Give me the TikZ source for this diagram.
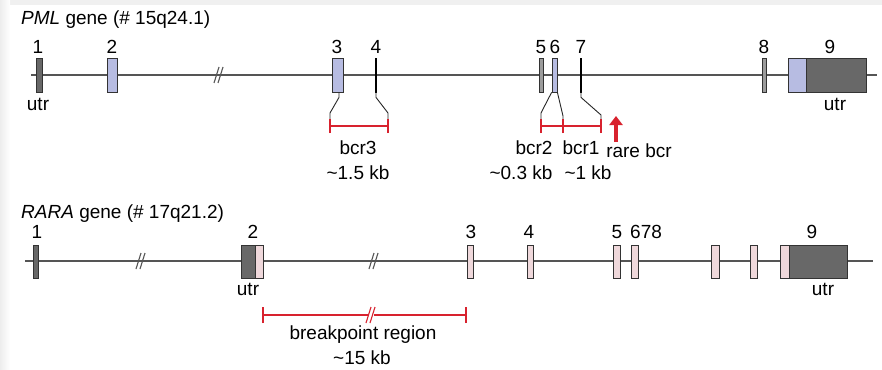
\documentclass[tikz,border=0pt]{standalone}
\usepackage{fontspec}
\setmainfont{Liberation Sans}
\usetikzlibrary{arrows.meta}
\definecolor{exblue}{HTML}{B7BCE2}
\definecolor{expink}{HTML}{EFD8DB}
\definecolor{exdark}{HTML}{686868}
\definecolor{exgray}{HTML}{9C9C9C}
\definecolor{bcrred}{HTML}{D8222E}
\definecolor{axisgray}{HTML}{555555}

\begin{document}
\begin{tikzpicture}[x=1pt,y=-1pt,
  exon/.style={draw=black!80, line width=0.8pt, inner sep=0pt, minimum height=34pt, anchor=center},
  rexon/.style={exon, minimum height=33pt},
  lbl/.style={font=\fontsize{19}{21}\selectfont, inner sep=0pt},
  chrom/.style={draw=axisgray, line width=1.1pt},
  cut/.style={draw=axisgray, line width=1.1pt},
  fan/.style={draw=black!85, line width=0.9pt},
  bcr/.style={draw=bcrred, line width=1.2pt}]

% page and soft frame
\fill[white] (0,0) rectangle (882,369);
\fill[black!6] (0,0) rectangle (882,5);
\shade[left color=black!7, right color=white] (0,0) rectangle (10,369);
\useasboundingbox (0,0) rectangle (882,369);

% ---------------- PML ----------------
\node[lbl, anchor=west] (pmltitle) at (21,20) {\textit{PML} gene (\# 15q24.1)};
\coordinate (pa) at (31,75);
\coordinate (pb) at (877,75);
\draw[chrom] (pa) -- (pb);
\draw[cut] (214,83) -- (219,67) (218,83) -- (223,67);

\node[exon, fill=exdark, minimum width=6pt]  (p1) at (39,75) {};
\node[exon, fill=exblue, minimum width=10pt] (p2) at (112,75) {};
\node[exon, fill=exblue, minimum width=11pt] (p3) at (337.5,75) {};
\node[exon, fill=black, draw=black, minimum width=1.6pt] (p4) at (376,75) {};
\node[exon, fill=exgray, minimum width=4pt] (p5) at (541,75) {};
\node[exon, fill=exblue, minimum width=5pt] (p6) at (554.5,75) {};
\node[exon, fill=black, draw=black, minimum width=1.6pt] (p7) at (581,75) {};
\node[exon, fill=exgray, minimum width=4pt] (p8) at (764,75) {};
\node[exon, fill=exblue, minimum width=18pt] (p9a) at (797,75) {};
\node[exon, fill=exdark, minimum width=60pt] (p9b) at (836,75) {};

\node[lbl] (pl1) at (38,47) {1};
\node[lbl] (pl2) at (112,47) {2};
\node[lbl] (pl3) at (337,47) {3};
\node[lbl] (pl4) at (376,47) {4};
\node[lbl] (pl5) at (541,47) {5};
\node[lbl] (pl6) at (555,47) {6};
\node[lbl] (pl7) at (581,47) {7};
\node[lbl] (pl8) at (764,47) {8};
\node[lbl] (pl9) at (830,47) {9};
\node[lbl] (pu1) at (38,104) {utr};
\node[lbl] (pu9) at (835,104) {utr};

% bcr3 fan and bar
\coordinate (b3l) at (330,126);
\coordinate (b3r) at (388,126);
\draw[fan] ([xshift=1.5pt]p3.south) -- ++(0,5) -- (330,113) -- (b3l);
\draw[fan] (p4.south) -- ++(0,5) -- (388,113) -- (b3r);
\draw[bcr] (b3l) -- (b3r);
\draw[bcr] ([yshift=-7pt]b3l) -- ([yshift=7pt]b3l) ([yshift=-7pt]b3r) -- ([yshift=7pt]b3r);

% bcr2 / bcr1 fan and bar
\coordinate (b2l) at (541,126);
\coordinate (b2m) at (563,126);
\coordinate (b1r) at (601,126);
\draw[fan] (p6.south west) -- (541,113) -- (b2l);
\draw[fan] (p6.south east) -- (563,116) -- (b2m);
\draw[fan] (p7.south) -- ++(0,5) -- (601,115) -- (b1r);
\draw[bcr] (b2l) -- (b1r);
\draw[bcr] ([yshift=-7pt]b2l) -- ([yshift=7pt]b2l) ([yshift=-7pt]b2m) -- ([yshift=7pt]b2m)
  ([yshift=-7pt]b1r) -- ([yshift=7pt]b1r);

\node[lbl] (t3a) at (358,148) {bcr3};
\node[lbl] (t3b) at (358,173) {\textasciitilde 1.5 kb};
\node[lbl] (t2a) at (534,148) {bcr2};
\node[lbl] (t2b) at (521,173) {\textasciitilde 0.3 kb};
\node[lbl] (t1a) at (581,148) {bcr1};
\node[lbl] (t1b) at (588,173) {\textasciitilde 1 kb};
\node[lbl] (rare) at (639,151) {rare bcr};
\coordinate (ra) at (616,142);
\coordinate (rb) at (616,116);
\draw[bcrred, line width=3.6pt, -{Triangle[width=13pt,length=9pt]}] (ra) -- (rb);

% ---------------- RARA ----------------
\node[lbl, anchor=west] (raratitle) at (21,214) {\textit{RARA} gene (\# 17q21.2)};
\coordinate (qa) at (25,261);
\coordinate (qb) at (873,261);
\draw[chrom] (qa) -- (qb);
\draw[cut] (136,269) -- (141,253) (140,269) -- (145,253);
\draw[cut] (369,269) -- (374,253) (373,269) -- (378,253);

\node[rexon, fill=exdark, minimum width=5pt]  (r1) at (35.5,261.5) {};
\node[rexon, fill=exdark, minimum width=14pt] (r2a) at (248,261.5) {};
\node[rexon, fill=expink, minimum width=8pt]  (r2b) at (259,261.5) {};
\node[rexon, fill=expink, minimum width=6pt]  (r3) at (470,261.5) {};
\node[rexon, fill=expink, minimum width=6pt]  (r4) at (530,261.5) {};
\node[rexon, fill=expink, minimum width=7pt]  (r5) at (616.5,261.5) {};
\node[rexon, fill=expink, minimum width=7pt]  (r6) at (634.5,261.5) {};
\node[rexon, fill=expink, minimum width=8pt]  (r7) at (715,261.5) {};
\node[rexon, fill=expink, minimum width=7pt]  (r8) at (753.5,261.5) {};
\node[rexon, fill=expink, minimum width=9pt]  (r9a) at (784.5,261.5) {};
\node[rexon, fill=exdark, minimum width=58pt] (r9b) at (818,261.5) {};

\node[lbl] (rl1) at (37,232) {1};
\node[lbl] (rl2) at (253,232) {2};
\node[lbl] (rl3) at (471,232) {3};
\node[lbl] (rl4) at (529,232) {4};
\node[lbl] (rl5) at (617,232) {5};
\node[lbl, anchor=west] (rl6) at (630,232) {678};
\node[lbl] (rl9) at (812,232) {9};
\node[lbl] (ru2) at (248,289) {utr};
\node[lbl] (ru9) at (823,289) {utr};

% breakpoint region
\coordinate (bpl) at (263,315);
\coordinate (bpr) at (466,315);
\draw[bcr] (bpl) -- (bpr);
\draw[bcr] ([yshift=-8pt]bpl) -- ([yshift=8pt]bpl) ([yshift=-8pt]bpr) -- ([yshift=8pt]bpr);
\fill[white] (369,312) rectangle (374,318);
\draw[bcr, line width=1.1pt] (366,323) -- (371,307) (370,323) -- (375,307);
\node[lbl] (bpt) at (363,335) {breakpoint region};
\node[lbl] (bpk) at (362,358) {\textasciitilde 15 kb};
\end{tikzpicture}
\end{document}
